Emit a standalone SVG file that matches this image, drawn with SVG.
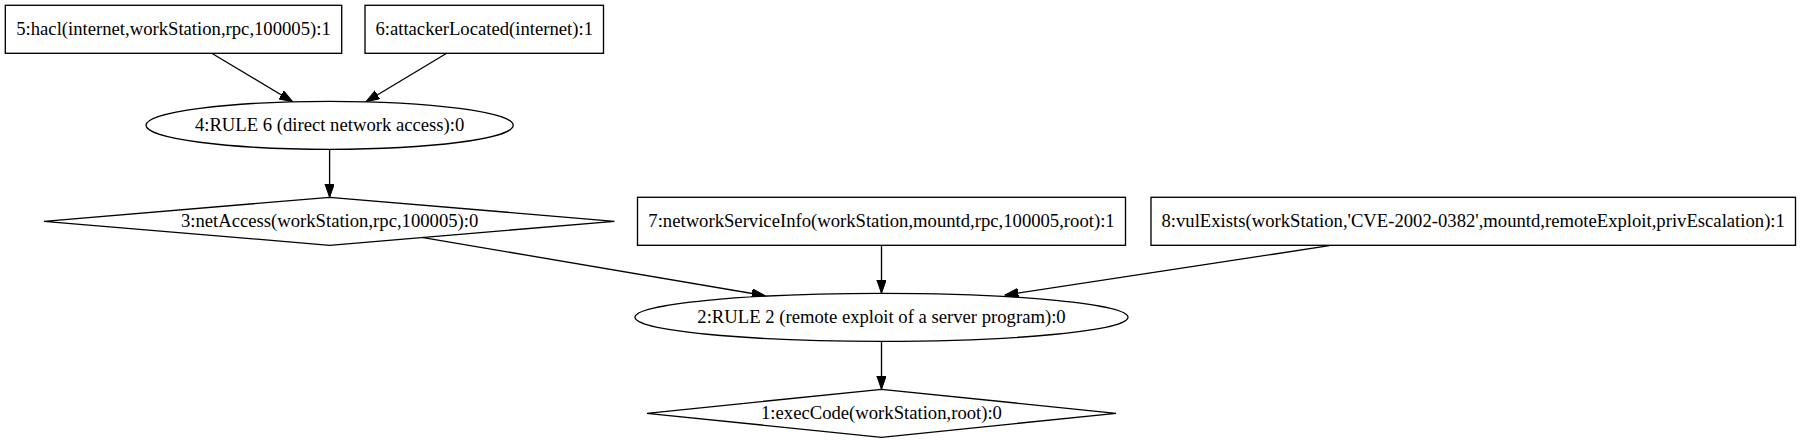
<svg xmlns="http://www.w3.org/2000/svg" width="1801" height="443" viewBox="0 0 1801 443">
<style>
.n{fill:#fff;stroke:#000;stroke-width:1.33}
.t{font-family:"Liberation Serif","Times New Roman",serif;font-size:18.67px;text-anchor:middle;fill:#000}
.e{stroke:#000;stroke-width:1.33;fill:none}
</style>
<defs>
<marker id="ah" markerUnits="userSpaceOnUse" markerWidth="14" markerHeight="10" refX="13.3" refY="4.67" orient="auto">
<path d="M0,0 L13.3,4.67 L0,9.33 z" fill="#000" stroke="#000" stroke-width="1"/>
</marker>
</defs>
<rect width="1801" height="443" fill="#fff"/>
<g id="edges">
<line class="e" x1="211.7" y1="53.3" x2="292.7" y2="101.7" marker-end="url(#ah)"/>
<line class="e" x1="446.7" y1="53.3" x2="366" y2="101.7" marker-end="url(#ah)"/>
<line class="e" x1="329.6" y1="149.3" x2="329.6" y2="197.3" marker-end="url(#ah)"/>
<line class="e" x1="421.7" y1="237.3" x2="765" y2="295.7" marker-end="url(#ah)"/>
<line class="e" x1="881.5" y1="245.3" x2="881.5" y2="293.3" marker-end="url(#ah)"/>
<line class="e" x1="1329.3" y1="245.7" x2="1005" y2="295" marker-end="url(#ah)"/>
<line class="e" x1="881.5" y1="341.3" x2="881.5" y2="389.3" marker-end="url(#ah)"/>
</g>
<g id="node5">
<rect class="n" x="5.3" y="5.3" width="336.4" height="48"/>
<text class="t" x="173.5" y="35">5:hacl(internet,workStation,rpc,100005):1</text>
</g>
<g id="node6">
<rect class="n" x="365" y="5.3" width="238.5" height="48"/>
<text class="t" x="484.2" y="35">6:attackerLocated(internet):1</text>
</g>
<g id="node4">
<ellipse class="n" cx="329.6" cy="125.3" rx="183.6" ry="24"/>
<text class="t" x="329.6" y="131">4:RULE 6 (direct network access):0</text>
</g>
<g id="node3">
<polygon class="n" points="329.6,197.3 614.5,221.3 329.6,245.3 44,221.3"/>
<text class="t" x="329.6" y="227">3:netAccess(workStation,rpc,100005):0</text>
</g>
<g id="node7">
<rect class="n" x="637.5" y="197.3" width="488" height="48"/>
<text class="t" x="881.5" y="227">7:networkServiceInfo(workStation,mountd,rpc,100005,root):1</text>
</g>
<g id="node8">
<rect class="n" x="1151" y="197.3" width="644.5" height="48"/>
<text class="t" x="1473.2" y="227">8:vulExists(workStation,'CVE-2002-0382',mountd,remoteExploit,privEscalation):1</text>
</g>
<g id="node2">
<ellipse class="n" cx="881.5" cy="317.3" rx="246.5" ry="24"/>
<text class="t" x="881.5" y="323">2:RULE 2 (remote exploit of a server program):0</text>
</g>
<g id="node1">
<polygon class="n" points="881.5,389.3 1116,413.3 881.5,437.3 647,413.3"/>
<text class="t" x="881.5" y="419">1:execCode(workStation,root):0</text>
</g>
</svg>
